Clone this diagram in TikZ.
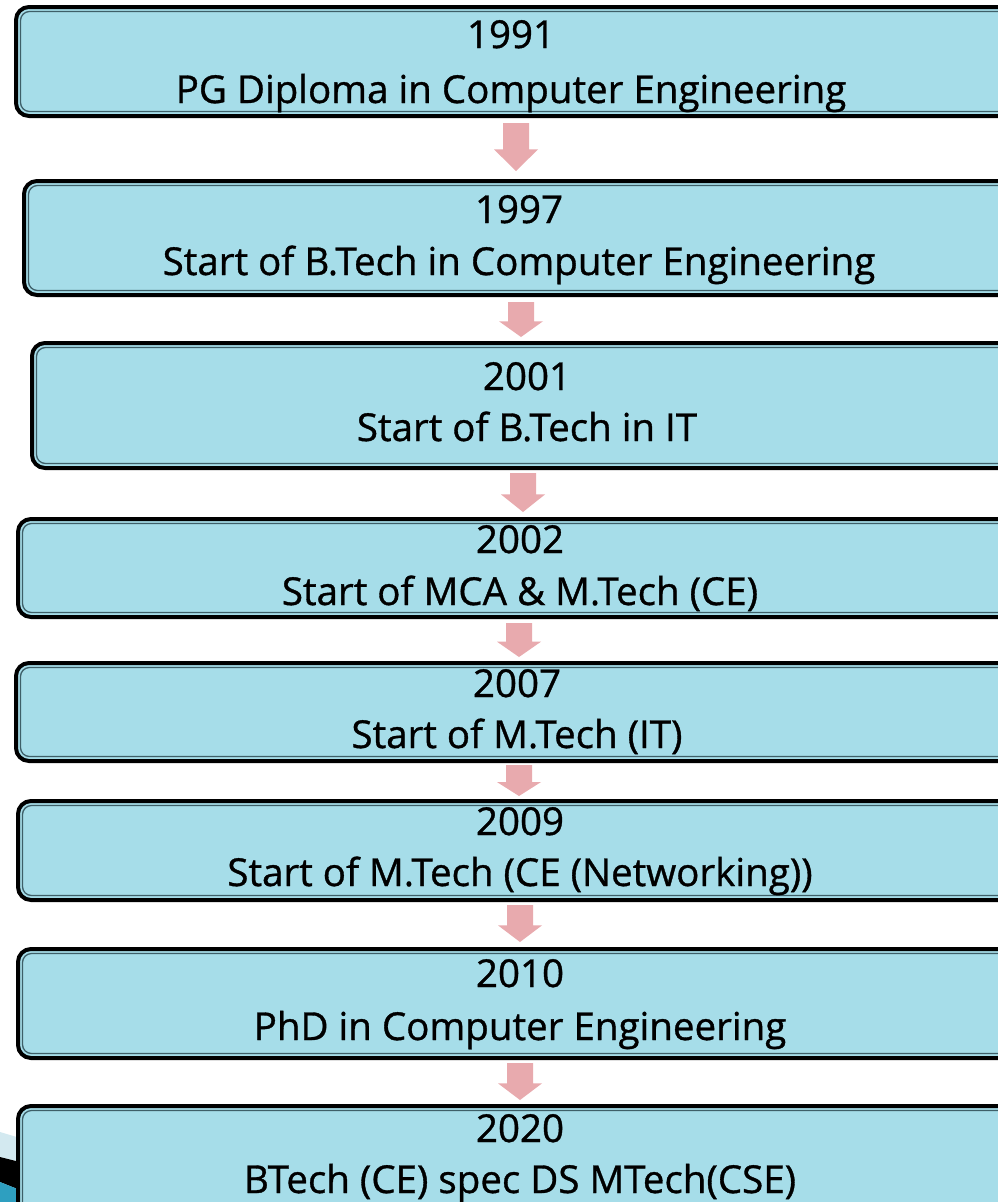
\documentclass[tikz,border=0pt]{standalone}
\usepackage{fontspec}
\setmainfont{Open Sans}
\newfontfamily\lblfont{Open Sans}[FakeBold=0.9]
\definecolor{boxfill}{HTML}{A6DDE9}
\definecolor{innerline}{HTML}{3E5F68}
\definecolor{arrowpink}{HTML}{E8AAAE}
\definecolor{swooshlight}{HTML}{D3E9F0}
\definecolor{swooshteal}{HTML}{2E9FC0}
\tikzset{
  tbox/.style={draw=black, line width=4pt, fill=boxfill, rounded corners=13pt,
    anchor=north west, inner sep=0pt, outer sep=0pt},
  innerframe/.style={draw=innerline, line width=1.3pt, rounded corners=9pt},
  lbl/.style={font=\lblfont\fontsize{38.5}{46}\selectfont, anchor=base, inner sep=0pt, text=black},
  blockarrow/.style={fill=arrowpink, draw=none}
}
% box: name, left, top, bottom
\newcommand\tlbox[4]{%
  \node[tbox, minimum width={1020-#2}, minimum height={#4-#3-4}] (#1) at ({#2+2},{#3+2}) {};
  \draw[innerframe] ([shift={(4.5,4.5)}]#1.north west) rectangle ([shift={(-4.5,-4.5)}]#1.south east);
}
% block arrow: name, centre x, top, bottom
\newcommand\blockarr[4]{%
  \coordinate (#1) at (#2,#4);
  \fill[blockarrow] ({#2-13},#3) -- ({#2+13},#3) -- ({#2+13},{#4-0.45*(#4-#3)})
     -- ({#2+22},{#4-0.45*(#4-#3)}) -- (#1) -- ({#2-22},{#4-0.45*(#4-#3)})
     -- ({#2-13},{#4-0.45*(#4-#3)}) -- cycle;
}
\begin{document}
\begin{tikzpicture}[x=1pt, y=-1pt]
\useasboundingbox (0,0) rectangle (998,1202);
\clip (0,0) rectangle (998,1202);
\fill[white] (0,0) rectangle (998,1202);

% decoration at bottom left
\fill[swooshlight] (0,1132) -- (20,1138) -- (20,1162) -- (0,1157) -- cycle;
\fill[black] (0,1157) -- (20,1162) -- (20,1190) -- (0,1182) -- cycle;
\fill[swooshteal] (0,1182) -- (20,1190) -- (20,1202) -- (0,1202) -- cycle;

\tlbox{b1}{14}{5}{118}
\tlbox{b2}{22}{179}{297}
\tlbox{b3}{30}{341}{470}
\tlbox{b4}{16}{517}{619}
\tlbox{b5}{14}{661}{763}
\tlbox{b6}{16}{799}{902}
\tlbox{b7}{16}{947}{1060}
\tlbox{b8}{16}{1104}{1262}

\node[lbl] (y1) at (511,48) {1991};
\node[lbl] (d1) at (511,103) {PG Diploma in Computer Engineering};
\node[lbl] (y2) at (519,223) {1997};
\node[lbl] (d2) at (519,275) {Start of B.Tech in Computer Engineering};
\node[lbl] (y3) at (527,390) {2001};
\node[lbl] (d3) at (527,441) {Start of B.Tech in IT};
\node[lbl] (y4) at (520,553) {2002};
\node[lbl] (d4) at (520,605) {Start of MCA \& M.Tech (CE)};
\node[lbl] (y5) at (517,697) {2007};
\node[lbl] (d5) at (517,748) {Start of M.Tech (IT)};
\node[lbl] (y6) at (520,835) {2009};
\node[lbl] (d6) at (520,886) {Start of M.Tech (CE (Networking))};
\node[lbl] (y7) at (520,987) {2010};
\node[lbl] (d7) at (520,1040) {PhD in Computer Engineering};
\node[lbl] (y8) at (520,1142) {2020};
\node[lbl] (d8) at (520,1193) {BTech (CE) spec DS MTech(CSE)};

\blockarr{a1}{516}{123}{171}
\blockarr{a2}{521}{302}{337}
\blockarr{a3}{523}{473}{512}
\blockarr{a4}{519}{623}{657}
\blockarr{a5}{519}{765}{796}
\blockarr{a6}{520}{905}{942}
\blockarr{a7}{520}{1063}{1100}
\end{tikzpicture}
\end{document}
